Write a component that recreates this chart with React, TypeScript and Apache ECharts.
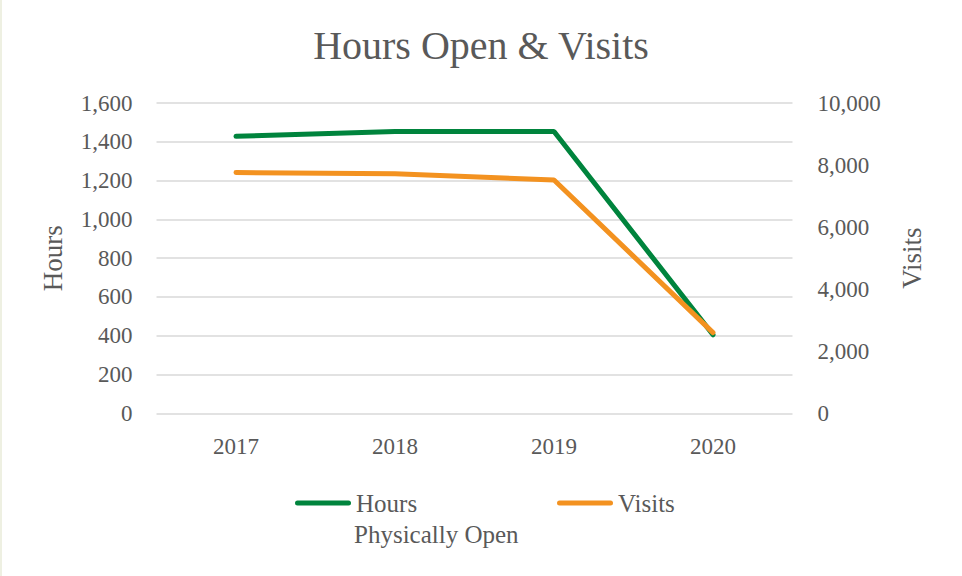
import React, { useEffect, useRef } from "react";
import * as echarts from "echarts";

const categories = ["2017", "2018", "2019", "2020"];
const hoursValues = [1428, 1453, 1453, 405];
const visitsValues = [7760, 7720, 7520, 2600];
const hoursName = "Hours";
const visitsName = "Visits";
const legendSubline = "Physically Open";
const titleText = "Hours Open & Visits";

const FONT = "'Liberation Serif', 'Times New Roman', serif";
const TEXT = "#595959";
const GREEN = "#00843D";
const ORANGE = "#F39220";
const ICON = "path://M2.5,0 H53.5 A2.5,2.5 0 0 1 53.5,5 H2.5 A2.5,2.5 0 0 1 2.5,0 Z";

export default function App() {
  const ref = useRef<HTMLDivElement>(null);
  useEffect(() => {
    if (!ref.current) return;
    const chart = echarts.init(ref.current, undefined, { renderer: "svg" });
    const legendCommon = {
      orient: "horizontal",
      top: 484,
      itemWidth: 56,
      itemHeight: 5,
      icon: ICON,
      selectedMode: false,
      textStyle: { fontFamily: FONT, fontSize: 25, color: TEXT, lineHeight: 28 },
    };
    chart.setOption({
      animation: false,
      backgroundColor: "#ffffff",
      title: {
        text: titleText,
        left: "center",
        top: 20,
        textStyle: { fontFamily: FONT, fontSize: 40, fontWeight: "normal", color: TEXT },
      },
      legend: [
        { ...legendCommon, left: 290, data: [hoursName] },
        { ...legendCommon, left: 552, data: [visitsName] },
      ],
      graphic: [
        {
          type: "rect",
          left: 0,
          top: 0,
          shape: { width: 2, height: 576 },
          style: { fill: "#eef0e2" },
        },
        {
          type: "text",
          left: 354,
          top: 522,
          style: { text: legendSubline, font: `25px ${FONT}`, fill: TEXT },
        },
      ],
      grid: { left: 156.5, right: 169.5, top: 103, bottom: 162.7 },
      xAxis: {
        type: "category",
        data: categories,
        boundaryGap: true,
        axisLine: { show: false },
        axisTick: { show: false },
        axisLabel: { fontFamily: FONT, fontSize: 23, color: TEXT, margin: 22 },
      },
      yAxis: [
        {
          type: "value",
          min: 0,
          max: 1600,
          interval: 200,
          name: "Hours",
          nameLocation: "middle",
          nameGap: 90,
          nameTextStyle: { fontFamily: FONT, fontSize: 27, color: TEXT },
          axisLine: { show: false },
          axisTick: { show: false },
          axisLabel: {
            fontFamily: FONT,
            fontSize: 23,
            color: TEXT,
            margin: 24,
            formatter: (v: number) => v.toLocaleString("en-US"),
          },
          splitLine: { lineStyle: { color: "#d9d9d9", width: 1.5 } },
        },
        {
          type: "value",
          min: 0,
          max: 10000,
          interval: 2000,
          position: "right",
          name: "Visits",
          nameLocation: "middle",
          nameGap: 106,
          nameTextStyle: { fontFamily: FONT, fontSize: 27, color: TEXT },
          axisLine: { show: false },
          axisTick: { show: false },
          axisLabel: {
            fontFamily: FONT,
            fontSize: 23,
            color: TEXT,
            margin: 25,
            formatter: (v: number) => v.toLocaleString("en-US"),
          },
          splitLine: { show: false },
        },
      ],
      series: [
        {
          name: hoursName,
          type: "line",
          yAxisIndex: 0,
          data: hoursValues,
          symbol: "none",
          color: GREEN,
          lineStyle: { color: GREEN, width: 5, cap: "round" },
          itemStyle: { color: GREEN },
        },
        {
          name: visitsName,
          type: "line",
          yAxisIndex: 1,
          data: visitsValues,
          symbol: "none",
          color: ORANGE,
          lineStyle: { color: ORANGE, width: 5, cap: "round" },
          itemStyle: { color: ORANGE },
        },
      ],
    });
    return () => chart.dispose();
  }, []);
  return (
    <div
      ref={ref}
      style={{ position: "fixed", left: 0, top: 0, width: 962, height: 576 }}
    />
  );
}
